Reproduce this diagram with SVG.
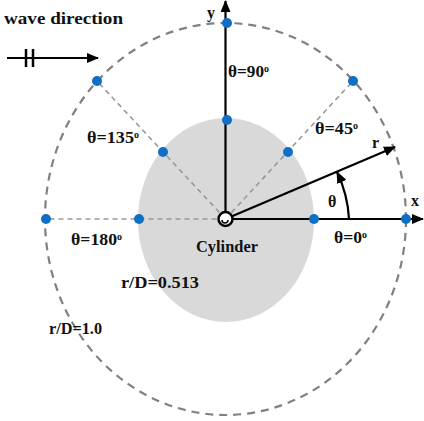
<svg xmlns="http://www.w3.org/2000/svg" width="424" height="421" viewBox="0 0 424 421">
<style>
.t{font-family:"Liberation Serif","DejaVu Serif",serif;font-weight:bold;font-size:16px;fill:#111}
.sup{font-size:10px}
.dot{fill:#0f6fc6}
.rad{stroke:#999;stroke-width:1.6;stroke-dasharray:5 4;fill:none}
.ax{stroke:#000;stroke-width:2.2;fill:none}
</style>
<defs>
<marker id="ah" markerWidth="12" markerHeight="10" refX="11" refY="5" orient="auto" markerUnits="userSpaceOnUse">
<path d="M0,0 L12,5 L0,10 z" fill="#000"/>
</marker>
</defs>
<rect width="424" height="421" fill="#fff"/>
<g id="cylinder-area">
<ellipse cx="226" cy="220" rx="88" ry="102" fill="#d9d9d9"/>
</g>
<g id="outer-circle">
<ellipse cx="225.5" cy="219" rx="180.5" ry="196" fill="none" stroke="#808080" stroke-width="2.2" stroke-dasharray="8 6"/>
</g>
<g id="connectors">
<line class="rad" x1="225.5" y1="219" x2="97" y2="81"/>
<line class="rad" x1="225.5" y1="219" x2="353" y2="81"/>
<line class="rad" x1="225.5" y1="219" x2="45" y2="219"/>
<line class="ax" x1="225.5" y1="219" x2="225.5" y2="1" marker-end="url(#ah)"/>
<line class="ax" x1="225.5" y1="219" x2="423" y2="219" marker-end="url(#ah)"/>
<line class="ax" x1="225.5" y1="219" x2="395" y2="147" stroke-width="2" marker-end="url(#ah)"/>
<path class="ax" d="M349,219 A123.5,123.5 0 0 0 337,172" stroke-width="1.8" marker-end="url(#ah)"/>
</g>
<g id="wave-direction">
<text class="t" x="4" y="24" textLength="119" lengthAdjust="spacingAndGlyphs">wave direction</text>
<line x1="7" y1="58" x2="98" y2="58" stroke="#000" stroke-width="2.2" marker-end="url(#ah)"/>
<line x1="26" y1="49" x2="26" y2="67" stroke="#000" stroke-width="2.5"/>
<line x1="33" y1="49" x2="33" y2="67" stroke="#000" stroke-width="2.5"/>
</g>
<g id="points">
<circle class="dot" cx="227" cy="23" r="5"/>
<circle class="dot" cx="97" cy="81" r="5"/>
<circle class="dot" cx="353" cy="81" r="5"/>
<circle class="dot" cx="46" cy="219" r="5"/>
<circle class="dot" cx="406" cy="219" r="5"/>
<circle class="dot" cx="227" cy="120" r="5"/>
<circle class="dot" cx="163" cy="152" r="5"/>
<circle class="dot" cx="288" cy="152" r="5"/>
<circle class="dot" cx="139" cy="219" r="5"/>
<circle class="dot" cx="314" cy="219" r="5"/>
</g>
<g id="center">
<circle cx="225.5" cy="219" r="7" fill="#fff" stroke="#000" stroke-width="2.5"/>
<path d="M222,220 A3,3 0 0 0 228,220" fill="none" stroke="#000" stroke-width="1.5"/>
</g>
<g id="labels">
<text class="t" x="207" y="18">y</text>
<text class="t" x="411" y="206">x</text>
<text class="t" x="372" y="148">r</text>
<text class="t" x="328" y="207">θ</text>
<text class="t" x="228" y="77"><tspan textLength="36" lengthAdjust="spacingAndGlyphs">θ=90</tspan><tspan class="sup" dy="-5">o</tspan></text>
<text class="t" x="315" y="134"><tspan textLength="38" lengthAdjust="spacingAndGlyphs">θ=45</tspan><tspan class="sup" dy="-5">o</tspan></text>
<text class="t" x="87" y="143"><tspan textLength="47" lengthAdjust="spacingAndGlyphs">θ=135</tspan><tspan class="sup" dy="-5">o</tspan></text>
<text class="t" x="71" y="245"><tspan textLength="46" lengthAdjust="spacingAndGlyphs">θ=180</tspan><tspan class="sup" dy="-5">o</tspan></text>
<text class="t" x="334" y="243"><tspan textLength="28" lengthAdjust="spacingAndGlyphs">θ=0</tspan><tspan class="sup" dy="-5">o</tspan></text>
<text class="t" x="196" y="252" textLength="62" lengthAdjust="spacingAndGlyphs">Cylinder</text>
<text class="t" x="121" y="288" textLength="78" lengthAdjust="spacingAndGlyphs">r/D=0.513</text>
<text class="t" x="49" y="334" textLength="53" lengthAdjust="spacingAndGlyphs">r/D=1.0</text>
</g>
</svg>
